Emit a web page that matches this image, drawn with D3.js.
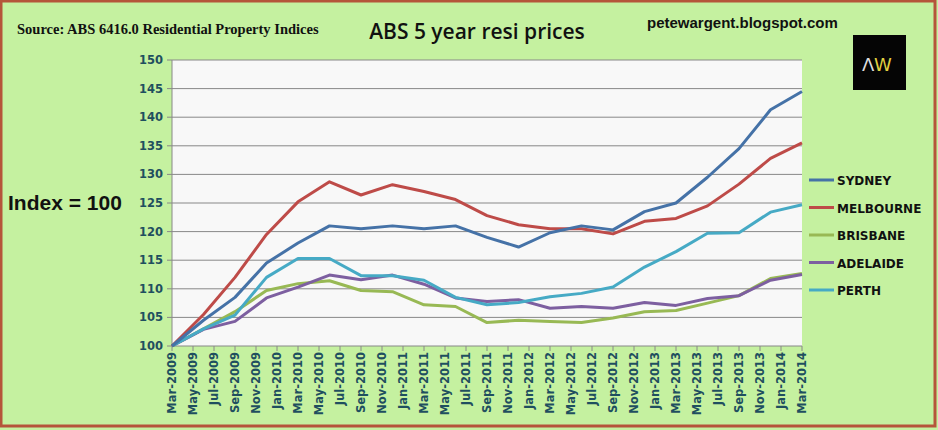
<!DOCTYPE html>
<html><head><meta charset="utf-8">
<script src="https://cdn.jsdelivr.net/npm/d3@7"></script>
<style>body{margin:0;background:#fff}svg{display:block}</style>
</head><body><svg id="c" width="938" height="430"></svg>
<script>
const tickLabels = ["Mar-2009","May-2009","Jul-2009","Sep-2009","Nov-2009","Jan-2010","Mar-2010","May-2010","Jul-2010","Sep-2010","Nov-2010","Jan-2011","Mar-2011","May-2011","Jul-2011","Sep-2011","Nov-2011","Jan-2012","Mar-2012","May-2012","Jul-2012","Sep-2012","Nov-2012","Jan-2013","Mar-2013","May-2013","Jul-2013","Sep-2013","Nov-2013","Jan-2014","Mar-2014"];
const quarterIdx = d3.range(0,61,3); // months since Mar-2009
const cities = ["SYDNEY","MELBOURNE","BRISBANE","ADELAIDE","PERTH"];
const colors = ["#4572a7","#be4b48","#98b954","#7d5fa0","#46aac5"];
const sydney = [100,104.5,108.5,114.5,118,121,120.5,121,120.5,121,119,117.3,119.8,121,120.3,123.5,125,129.5,134.5,141.3,144.5];
const melbourne = [100,105.5,112,119.5,125.2,128.7,126.4,128.2,127,125.6,122.8,121.2,120.5,120.5,119.6,121.8,122.3,124.5,128.3,132.8,135.5];
const brisbane = [100,103,106,109.7,110.9,111.4,109.7,109.5,107.2,106.9,104.1,104.5,104.3,104.1,104.9,106,106.2,107.5,108.8,111.8,112.7];
const adelaide = [100,102.9,104.3,108.4,110.3,112.4,111.6,112.4,110.8,108.4,107.8,108.1,106.6,106.9,106.6,107.6,107.1,108.3,108.8,111.5,112.5];
const perth = [100,103,105.4,112,115.3,115.3,112.3,112.3,111.5,108.5,107.2,107.6,108.6,109.2,110.3,113.8,116.5,119.7,119.8,123.4,124.7];
const series = [sydney,melbourne,brisbane,adelaide,perth];
const yTicks = d3.range(100,151,5);

const svg = d3.select("#c");
svg.append("rect").attr("x",0).attr("y",0).attr("width",938).attr("height",430).attr("fill","#c5f1a0");
svg.append("rect").attr("x",1).attr("y",1).attr("width",934).attr("height",425).attr("fill","none").attr("stroke","#b5553a").attr("stroke-width",3);
const L=172,R=802,T=60,B=346;
const x=d3.scaleLinear().domain([0,60]).range([L,R]);
const y=d3.scaleLinear().domain([100,150]).range([B,T]);
svg.append("rect").attr("x",L).attr("y",T).attr("width",R-L).attr("height",B-T).attr("fill","#f8f8f8");
svg.append("g").selectAll("line").data(yTicks).join("line")
 .attr("x1",L-5).attr("x2",R).attr("y1",d=>y(d)).attr("y2",d=>y(d)).attr("stroke","#888").attr("stroke-width",1);
svg.append("line").attr("x1",L).attr("x2",L).attr("y1",T).attr("y2",B).attr("stroke","#888");
svg.append("g").selectAll("text").data(yTicks).join("text").attr("x",L-9).attr("y",d=>y(d)+4)
 .attr("text-anchor","end").attr("font-family","DejaVu Sans").attr("font-weight","bold").attr("font-size",11.5).attr("fill","#1f4f5f").text(d=>d);
const xt=svg.append("g");
tickLabels.forEach((t,i)=>{const px=x(i*2);
 xt.append("line").attr("x1",px).attr("x2",px).attr("y1",B).attr("y2",B+5).attr("stroke","#888");
 xt.append("text").attr("transform",`translate(${px+4},${B+6}) rotate(-90)`).attr("text-anchor","end")
  .attr("font-family","DejaVu Sans").attr("font-weight","bold").attr("font-size",11.5).attr("fill","#1f4f5f").text(t);});
const line=d3.line().x((d,i)=>x(quarterIdx[i])).y(d=>y(d));
[2,3,4,1,0].forEach(k=>svg.append("path").datum(series[k]).attr("d",line).attr("fill","none").attr("stroke",colors[k]).attr("stroke-width",3).attr("stroke-linejoin","round"));
cities.forEach((c,i)=>{const ly=180+i*27.5;
 svg.append("line").attr("x1",809).attr("x2",834).attr("y1",ly).attr("y2",ly).attr("stroke",colors[i]).attr("stroke-width",3);
 svg.append("text").attr("x",837).attr("y",ly+5).attr("font-family","DejaVu Sans").attr("font-weight","bold").attr("font-size",12).attr("fill","#111").text(c);});
svg.append("text").attr("x",17).attr("y",34).attr("font-family","Liberation Serif").attr("font-weight","bold").attr("font-size",14.5).attr("fill","#111").text("Source: ABS 6416.0 Residential Property Indices");
svg.append("text").attr("x",477).attr("y",39).attr("text-anchor","middle").attr("font-family","Open Sans").attr("font-size",21).attr("font-weight","600").attr("fill","#111").text("ABS 5 year resi prices");
svg.append("text").attr("x",647).attr("y",28).attr("font-family","Liberation Sans").attr("font-weight","bold").attr("font-size",15).attr("fill","#111").text("petewargent.blogspot.com");
svg.append("rect").attr("x",853).attr("y",35).attr("width",53).attr("height",55).attr("fill","#050505");
svg.append("text").attr("x",862).attr("y",71).attr("font-family","DejaVu Sans").attr("font-size",18).attr("fill","#ddd").text("Λ");
svg.append("text").attr("x",874).attr("y",71).attr("font-family","DejaVu Sans").attr("font-weight","normal").attr("font-size",18).attr("fill","#e0d040").text("W");
svg.append("text").attr("x",8).attr("y",210).attr("font-family","Liberation Sans").attr("font-weight","bold").attr("font-size",21).attr("fill","#111").text("Index = 100");
</script></body></html>
